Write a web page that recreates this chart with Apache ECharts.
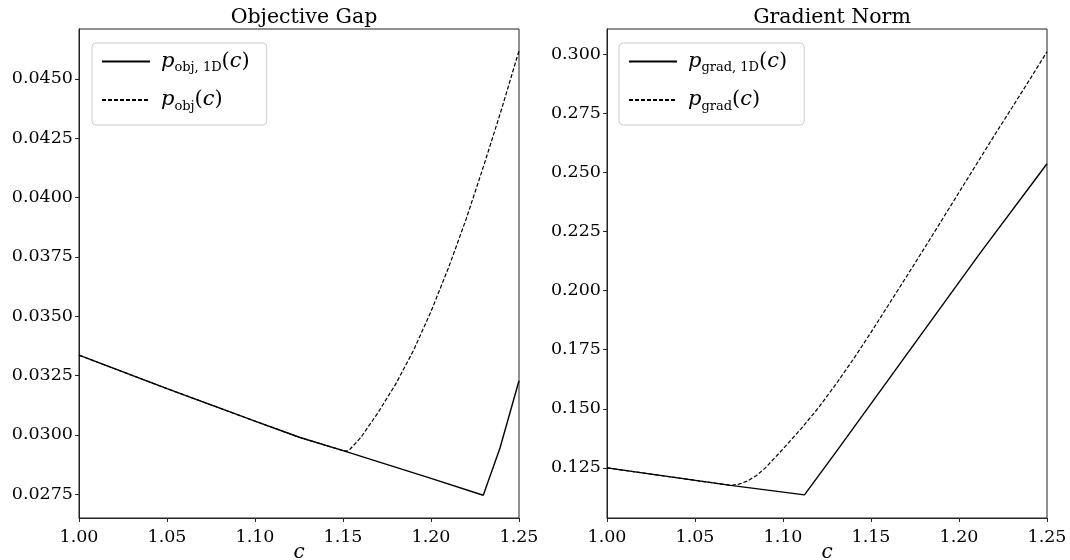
<!DOCTYPE html>
<html>
<head>
<meta charset="utf-8">
<script src="https://cdn.jsdelivr.net/npm/echarts@6/dist/echarts.min.js"></script>
<style>
  html, body { margin: 0; padding: 0; background: #fff; }
  #chart { width: 1070px; height: 560px; }
</style>
</head>
<body>
<div id="chart"></div>
<script>
// left panel: objective gap
const cObj1D = [1.00, 1.05, 1.10, 1.1256, 1.15, 1.20, 1.2297, 1.2392, 1.25];
const pObj1D = [0.03336, 0.03195, 0.03058, 0.02989, 0.02934, 0.02817, 0.02746, 0.02945, 0.03228];
const cObj = [1.00, 1.05, 1.10, 1.1256, 1.15, 1.153, 1.16, 1.17, 1.18, 1.19, 1.20, 1.21, 1.22, 1.23, 1.24, 1.25];
const pObj = [0.03336, 0.03195, 0.03058, 0.02989, 0.02934, 0.02932, 0.02988, 0.03095, 0.03215, 0.03355, 0.03520, 0.03705, 0.03910, 0.04135, 0.04370, 0.04618];

// right panel: gradient norm
const cGrad1D = [1.00, 1.0703, 1.1122, 1.1308, 1.2122, 1.25];
const pGrad1D = [0.1250, 0.1176, 0.1136, 0.1324, 0.2160, 0.2536];
const cGrad = [1.00, 1.0703, 1.075, 1.08, 1.085, 1.09, 1.10, 1.11, 1.12, 1.13, 1.14, 1.15, 1.16, 1.17, 1.18, 1.19, 1.20, 1.21, 1.22, 1.23, 1.24, 1.25];
const pGrad = [0.1250, 0.1176, 0.1181, 0.1195, 0.1218, 0.1250, 0.1330, 0.1413, 0.1503, 0.1603, 0.1710, 0.1823, 0.1940, 0.2057, 0.2175, 0.2295, 0.2415, 0.2535, 0.2655, 0.2772, 0.2890, 0.3010];

const xTicks = [1.00, 1.05, 1.10, 1.15, 1.20, 1.25];
const yTicksObj = [0.0275, 0.0300, 0.0325, 0.0350, 0.0375, 0.0400, 0.0425, 0.0450];
const yTicksGrad = [0.125, 0.150, 0.175, 0.200, 0.225, 0.250, 0.275, 0.300];

const titles = ['Objective Gap', 'Gradient Norm'];

const SERIF = 'DejaVu Serif';
const pairs = (xs, ys) => xs.map((x, i) => [x, ys[i]]);

const legendText = {
  pObj1D: '{p|p}{s|obj, 1D}{t|(}{p|c}{t|)}',
  pObj: '{p|p}{s|obj}{t|(}{p|c}{t|)}',
  pGrad1D: '{p|p}{s|grad, 1D}{t|(}{p|c}{t|)}',
  pGrad: '{p|p}{s|grad}{t|(}{p|c}{t|)}',
};

const rich = {
  p: { fontFamily: SERIF, fontStyle: 'italic', fontSize: 21, lineHeight: 26, color: '#000' },
  s: { fontFamily: SERIF, fontSize: 13, lineHeight: 11, color: '#000', verticalAlign: 'bottom' },
  t: { fontFamily: SERIF, fontSize: 21, lineHeight: 26, color: '#000' },
};

const legendBase = {
  orient: 'vertical',
  top: 43,
  itemWidth: 48,
  itemHeight: 14,
  itemGap: 15,
  padding: [8, 17, 12, 9],
  borderColor: '#cccccc',
  borderWidth: 1,
  borderRadius: 4,
  backgroundColor: '#fff',
  itemStyle: { color: 'rgba(0,0,0,0)', opacity: 0, borderWidth: 0 },
  formatter: (name) => legendText[name],
  textStyle: { rich: rich, padding: [0, 0, 0, 6] },
  selectedMode: false,
};

const xAxisBase = (gridIndex) => ({
  type: 'value',
  gridIndex: gridIndex,
  min: 1.0,
  max: 1.25,
  name: 'c',
  nameLocation: 'middle',
  nameGap: 25,
  nameMoveOverlap: false,
  nameTextStyle: { fontFamily: SERIF, fontStyle: 'italic', fontSize: 20, color: '#000' },
  axisLine: { show: true, lineStyle: { color: '#222', width: 1 } },
  axisTick: { show: true, length: 4, lineStyle: { color: '#222' }, customValues: xTicks },
  axisLabel: {
    customValues: xTicks,
    formatter: (v) => v.toFixed(2),
    fontFamily: SERIF, fontSize: 17.5, color: '#000', margin: 10,
  },
  splitLine: { show: false },
});

const yAxisBase = (gridIndex, min, max, ticks, digits) => ({
  type: 'value',
  gridIndex: gridIndex,
  min: min,
  max: max,
  axisLine: { show: true, lineStyle: { color: '#222', width: 1 } },
  axisTick: { show: true, length: 4, lineStyle: { color: '#222' }, customValues: ticks },
  axisLabel: {
    customValues: ticks,
    formatter: (v) => v.toFixed(digits),
    fontFamily: SERIF, fontSize: 17.5, color: '#000', margin: 6,
  },
  splitLine: { show: false },
});

const lineSeries = (name, idx, data, dashed) => ({
  name: name,
  type: 'line',
  xAxisIndex: idx,
  yAxisIndex: idx,
  data: data,
  symbol: 'none',
  animation: false,
  lineStyle: dashed
    ? { color: '#000', width: 1.2, type: [4, 2] }
    : { color: '#000', width: 1.4 },
  z: dashed ? 3 : 2,
});

const gridBase = {
  top: 29, bottom: 42, show: true, borderColor: '#222', borderWidth: 1,
  outerBoundsMode: 'none', containLabel: false,
};

const option = {
  backgroundColor: '#fff',
  animation: false,
  title: titles.map((t, i) => ({
    text: t,
    left: i === 0 ? 299 : 827,
    top: 2,
    textAlign: 'center',
    textStyle: { fontFamily: SERIF, fontSize: 20.5, fontWeight: 'normal', color: '#000' },
  })),
  grid: [
    Object.assign({}, gridBase, { left: 79, right: 551 }),
    Object.assign({}, gridBase, { left: 607, right: 23 }),
  ],
  legend: [
    Object.assign({}, legendBase, { left: 92, data: ['pObj1D', 'pObj'] }),
    Object.assign({}, legendBase, { left: 619, data: ['pGrad1D', 'pGrad'] }),
  ],
  xAxis: [xAxisBase(0), xAxisBase(1)],
  yAxis: [
    yAxisBase(0, 0.02650, 0.04710, yTicksObj, 4),
    yAxisBase(1, 0.1038, 0.3106, yTicksGrad, 3),
  ],
  series: [
    lineSeries('pObj1D', 0, pairs(cObj1D, pObj1D), false),
    lineSeries('pObj', 0, pairs(cObj, pObj), true),
    lineSeries('pGrad1D', 1, pairs(cGrad1D, pGrad1D), false),
    lineSeries('pGrad', 1, pairs(cGrad, pGrad), true),
  ],
};

const chart = echarts.init(document.getElementById('chart'), null, { renderer: 'canvas' });
chart.setOption(option);
</script>
</body>
</html>
